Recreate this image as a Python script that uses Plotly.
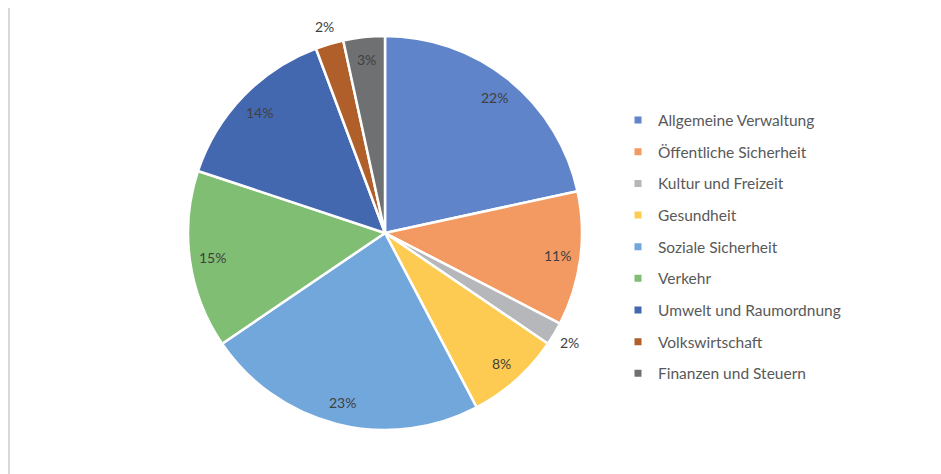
import math
import plotly.graph_objects as go

categories = [
    "Allgemeine Verwaltung",
    "Öffentliche Sicherheit",
    "Kultur und Freizeit",
    "Gesundheit",
    "Soziale Sicherheit",
    "Verkehr",
    "Umwelt und Raumordnung",
    "Volkswirtschaft",
    "Finanzen und Steuern",
]
shares = [21.6, 11.0, 1.9, 7.8, 23.2, 14.6, 14.2, 2.3, 3.4]
colors = [
    "#5f84c9", "#f39a62", "#b5b7ba", "#fecb52", "#72a7dc",
    "#80bf73", "#4468b0", "#b05f2a", "#6f7071",
]
outside = [False, False, True, False, False, False, False, True, False]

# the page body adds 8px, so the figure is a bit smaller than the window
W, H = 933, 466
cx, cy, r = 377, 225, 197

fig = go.Figure()
fig.add_pie(
    labels=categories,
    values=shares,
    sort=False,
    direction="clockwise",
    rotation=0,
    marker={"colors": colors, "line": {"color": "white", "width": 2.5}},
    textinfo="none",
    domain={"x": [(cx - r) / W, (cx + r) / W], "y": [1 - (cy + r) / H, 1 - (cy - r) / H]},
    showlegend=False,
    hoverinfo="label+percent",
)

# Excel-style data labels near the rim
total = sum(shares)
cum = 0
for share, out in zip(shares, outside):
    theta = 2 * math.pi * (cum + share / 2) / total
    cum += share
    k = 1.09 if out else 0.885
    px = cx + k * r * math.sin(theta)
    py = cy - k * r * math.cos(theta)
    fig.add_annotation(
        x=px / W, y=1 - py / H, xref="paper", yref="paper",
        xanchor="center", yanchor="middle",
        text=f"{round(share / total * 100)}%", showarrow=False,
        font={"family": "Lato, sans-serif", "size": 14, "color": "#404040"},
    )

# legend entries, one group each so the spacing can be set
for name, col in zip(categories, colors):
    fig.add_scatter(
        x=[None], y=[None], mode="markers", name=name, legendgroup=name,
        marker={"symbol": "square", "size": 7, "color": col},
    )

fig.add_shape(
    type="line", xref="paper", yref="paper",
    x0=1 / W, x1=1 / W, y0=0, y1=1,
    line={"color": "#d9d9d9", "width": 2},
)

fig.update_layout(
    width=W, height=H,
    margin={"l": 0, "r": 0, "t": 0, "b": 0},
    paper_bgcolor="white", plot_bgcolor="white",
    xaxis={"visible": False}, yaxis={"visible": False},
    font={"family": "Lato, sans-serif", "color": "#595959"},
    legend={
        "x": 610 / W, "xanchor": "left", "y": 1 - 239 / H, "yanchor": "middle",
        "font": {"size": 15.5, "color": "#595959"},
        "tracegroupgap": 8.5, "itemwidth": 30,
        "bgcolor": "rgba(0,0,0,0)",
    },
)

fig.write_html("out.html")
